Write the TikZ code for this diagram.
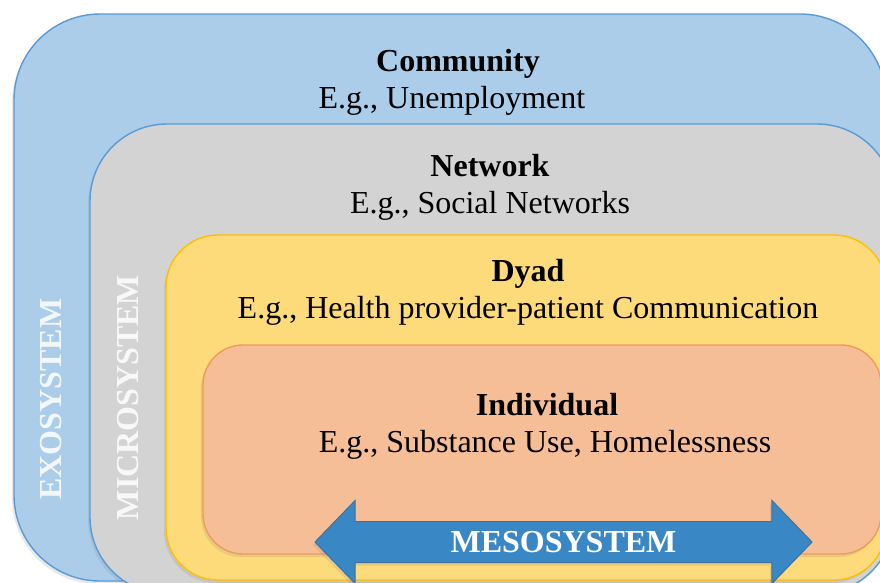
\documentclass[tikz,border=0pt]{standalone}
\usepackage{fontspec}
\setmainfont{Liberation Serif}
\usepackage{tikz}
\usetikzlibrary{shapes.arrows,shadows,positioning}

\definecolor{exofill}{HTML}{ABCDEA}
\definecolor{microfill}{HTML}{D3D3D3}
\definecolor{bluerim}{HTML}{5B9BD5}
\definecolor{dyadfill}{HTML}{FEDB7A}
\definecolor{dyadrim}{HTML}{FFC000}
\definecolor{indivfill}{HTML}{F5BE96}
\definecolor{indivrim}{HTML}{F09B5A}
\definecolor{mesofill}{HTML}{3A87C5}
\definecolor{mesorim}{HTML}{41719C}

\begin{document}
\begin{tikzpicture}[x=1pt,y=-1pt,
  level/.style={line width=1.4pt,drop shadow={shadow xshift=-2pt,shadow yshift=-3pt,opacity=.18}},
  title/.style={anchor=base,font=\fontsize{32}{38}\selectfont\bfseries},
  example/.style={anchor=base,font=\fontsize{32}{38}\selectfont},
  side/.style={rotate=90,text=white,text opacity=.85,font=\fontsize{32}{38}\selectfont\bfseries}]
\clip (0,0) rectangle (880,582);
\fill[white] (0,0) rectangle (880,582);

% nested levels, outermost first
\draw[level,fill=exofill,draw=bluerim,rounded corners=86pt] (14,14) rectangle (886,581);
\draw[level,fill=microfill,draw=bluerim,rounded corners=77pt] (90,124) rectangle (894,594);
\draw[level,fill=dyadfill,draw=dyadrim,rounded corners=52pt] (166,235) rectangle (886,580);
\draw[level,fill=indivfill,draw=indivrim,rounded corners=40pt] (203,345) rectangle (881,554);

\node (t1) at (458,71)[title] {Community};
\node (e1) at (452,108)[example] {E.g., Unemployment};
\node (t2) at (490,176)[title] {Network};
\node (e2) at (490,213)[example] {E.g., Social Networks};
\node (t3) at (528,281)[title] {Dyad};
\node (e3) at (528,318)[example] {E.g., Health provider-patient Communication};
\node (t4) at (547,415)[title] {Individual};
\node (e4) at (545,452)[example] {E.g., Substance Use, Homelessness};

\node (exo) at (51.5,399)[side] {EXOSYSTEM};
\node (micro) at (128.5,397.5)[side] {MICROSYSTEM};

% the two-headed arrow across the bottom
\node (meso) at (563.5,542)[double arrow,draw=mesorim,fill=mesofill,line width=1pt,
  minimum height=497pt,double arrow head extend=21pt,double arrow tip angle=92,
  inner xsep=0pt,inner ysep=9.5pt,text height=21pt,text depth=0pt,
  text=white,font=\fontsize{32}{38}\selectfont\bfseries,
  drop shadow={shadow xshift=-2pt,shadow yshift=-3pt,opacity=.18}] {MESOSYSTEM};
\end{tikzpicture}
\end{document}
